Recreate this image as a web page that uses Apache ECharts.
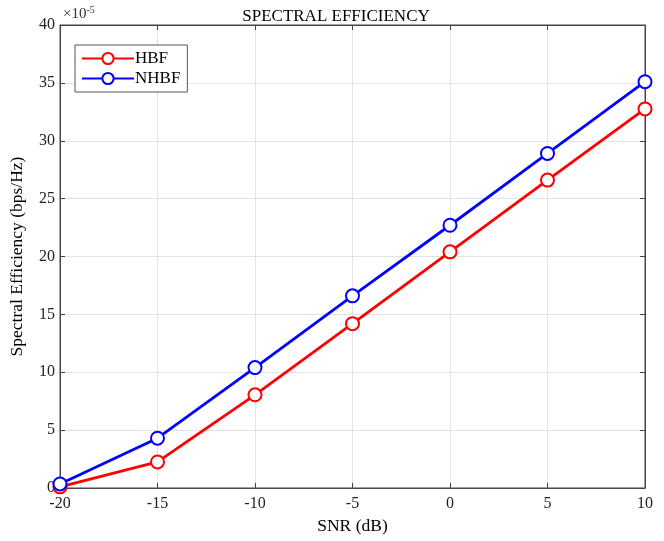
<!DOCTYPE html>
<html>
<head>
<meta charset="utf-8">
<script src="https://cdn.jsdelivr.net/npm/echarts@6/dist/echarts.min.js"></script>
<style>
  html, body { margin: 0; padding: 0; background: #fff; }
  #box { width: 664px; height: 541px; }
</style>
</head>
<body>
<div id="box"></div>
<script>
// SNR values (dB) and spectral efficiency in units of 1e-5 bps/Hz
const snr = [-20, -15, -10, -5, 0, 5, 10];
const hbf = [0.1, 2.25, 8.05, 14.2, 20.4, 26.6, 32.75];
const nhbf = [0.35, 4.3, 10.4, 16.6, 22.7, 28.9, 35.1];

const font = "Liberation Serif";
var myChart = echarts.init(document.getElementById("box"));

// shared look for the mirrored box axes (top / right)
const mirror = {
  axisLine: { show: true, onZero: false, lineStyle: { color: "#444" } },
  axisTick: { show: true, inside: true, length: 5, lineStyle: { color: "#444" } },
  axisLabel: { show: false },
  splitLine: { show: false },
};

myChart.setOption({
  animation: false,
  textStyle: { fontFamily: font },
  title: {
    text: "SPECTRAL EFFICIENCY",
    left: 331,
    top: 3,
    textAlign: "center",
    textStyle: { fontFamily: font, fontSize: 17, fontWeight: "normal", color: "#000" },
  },
  graphic: [
    {
      type: "text",
      left: 63,
      top: 5,
      style: {
        text: "{a|×10}{b|-5}",
        rich: {
          a: { fontFamily: font, fontSize: 15, fill: "#333", verticalAlign: "bottom" },
          b: { fontFamily: font, fontSize: 10, fill: "#333", verticalAlign: "top", padding: [0, 0, 7, 0] },
        },
      },
    },
  ],
  legend: {
    orient: "vertical",
    left: 75,
    top: 45,
    padding: [5, 7, 5, 6],
    itemGap: 3,
    itemWidth: 52,
    itemHeight: 14,
    borderColor: "#555",
    borderWidth: 1,
    backgroundColor: "#fff",
    textStyle: { fontFamily: font, fontSize: 17, color: "#000", padding: [0, 0, 0, -4] },
    data: ["HBF", "NHBF"],
  },
  grid: {
    left: 60,
    right: 19,
    top: 25,
    bottom: 53,
    show: true,
    borderColor: "#444",
    borderWidth: 1,
  },
  xAxis: [
    {
      type: "value",
      min: -20,
      max: 10,
      interval: 5,
      name: "SNR (dB)",
      nameLocation: "middle",
      nameGap: 29,
      nameTextStyle: { fontFamily: font, fontSize: 17.5, color: "#000" },
      axisLine: { onZero: false, lineStyle: { color: "#444" } },
      axisTick: { inside: true, length: 5, lineStyle: { color: "#444" } },
      axisLabel: { fontFamily: font, fontSize: 16, color: "#222", margin: 8 },
      splitLine: { show: true, lineStyle: { color: "#e3e3e3" } },
    },
    Object.assign({ type: "value", position: "top", min: -20, max: 10, interval: 5 }, mirror),
  ],
  yAxis: [
    {
      type: "value",
      min: 0,
      max: 40,
      interval: 5,
      name: "Spectral Efficiency (bps/Hz)",
      nameLocation: "middle",
      nameGap: 34,
      nameTextStyle: { fontFamily: font, fontSize: 17.5, color: "#000" },
      axisLine: { show: true, onZero: false, lineStyle: { color: "#444" } },
      axisTick: { show: true, inside: true, length: 5, lineStyle: { color: "#444" } },
      axisLabel: { fontFamily: font, fontSize: 16, color: "#222", margin: 5 },
      splitLine: { show: true, lineStyle: { color: "#e3e3e3" } },
    },
    Object.assign({ type: "value", position: "right", min: 0, max: 40, interval: 5 }, mirror),
  ],
  series: [
    {
      name: "HBF",
      type: "line",
      data: snr.map((x, i) => [x, hbf[i]]),
      symbol: "emptyCircle",
      symbolSize: 13,
      color: "#ff0000",
      lineStyle: { width: 2.8, color: "#ff0000" },
      itemStyle: { color: "#ff0000", borderWidth: 2.8 },
      clip: false,
      z: 3,
    },
    {
      name: "NHBF",
      type: "line",
      data: snr.map((x, i) => [x, nhbf[i]]),
      symbol: "emptyCircle",
      symbolSize: 13,
      color: "#0000ff",
      lineStyle: { width: 2.8, color: "#0000ff" },
      itemStyle: { color: "#0000ff", borderWidth: 2.8 },
      clip: false,
      z: 4,
    },
  ],
});
</script>
</body>
</html>
